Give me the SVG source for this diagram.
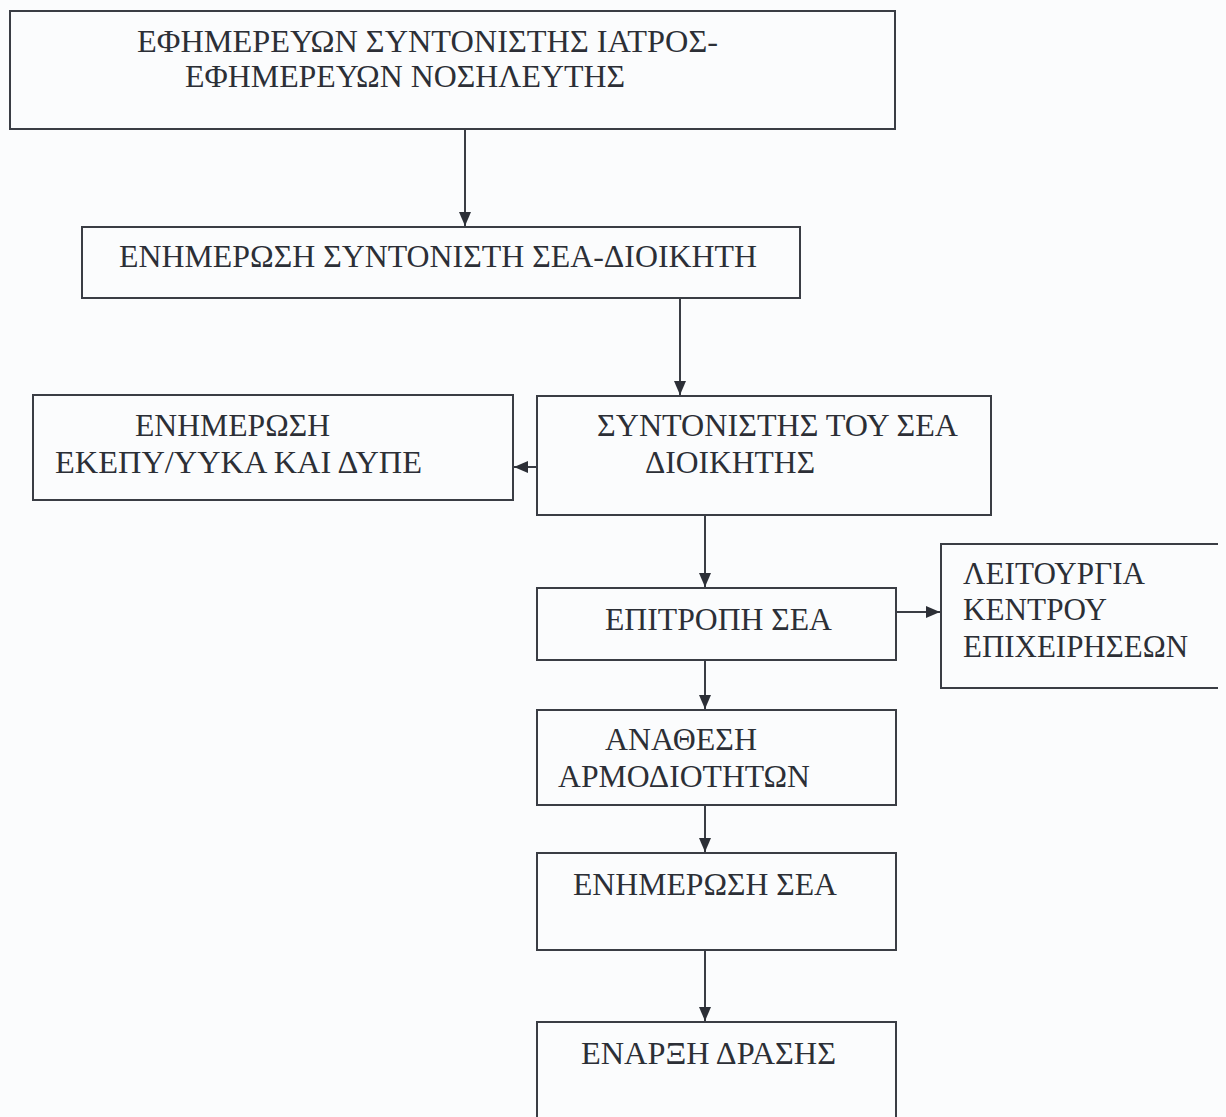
<svg xmlns="http://www.w3.org/2000/svg" width="1226" height="1117" viewBox="0 0 1226 1117">
<defs>
<style>
.box{fill:none;stroke:#3a3d44;stroke-width:2}
.t{font-family:"Liberation Serif","Times New Roman",serif;font-size:31px;fill:#2c2f36}
.c{fill:none;stroke:#3a3d44;stroke-width:2}
</style>
<marker id="ah" viewBox="0 0 14 12" refX="14" refY="6" markerWidth="14" markerHeight="12" markerUnits="userSpaceOnUse" orient="auto">
<path d="M0,0 L14,6 L0,12 z" fill="#2c2f36"/>
</marker>
</defs>
<rect width="1226" height="1117" fill="#fbfcfd"/>
<g id="connectors">
<line class="c" x1="465" y1="129" x2="465" y2="226" marker-end="url(#ah)"/>
<line class="c" x1="680" y1="298" x2="680" y2="395" marker-end="url(#ah)"/>
<line class="c" x1="537" y1="467" x2="514" y2="467" marker-end="url(#ah)"/>
<line class="c" x1="705" y1="515" x2="705" y2="587" marker-end="url(#ah)"/>
<line class="c" x1="896" y1="612" x2="940" y2="612" marker-end="url(#ah)"/>
<line class="c" x1="705" y1="660" x2="705" y2="709" marker-end="url(#ah)"/>
<line class="c" x1="705" y1="805" x2="705" y2="852" marker-end="url(#ah)"/>
<line class="c" x1="705" y1="950" x2="705" y2="1021" marker-end="url(#ah)"/>
</g>
<g id="n1">
<rect class="box" x="10" y="11" width="885" height="118"/>
<text class="t" x="137" y="52" textLength="581" lengthAdjust="spacingAndGlyphs">ΕΦΗΜΕΡΕΥΩΝ ΣΥΝΤΟΝΙΣΤΗΣ ΙΑΤΡΟΣ-</text>
<text class="t" x="185" y="87" textLength="440" lengthAdjust="spacingAndGlyphs">ΕΦΗΜΕΡΕΥΩΝ ΝΟΣΗΛΕΥΤΗΣ</text>
</g>
<g id="n2">
<rect class="box" x="82" y="227" width="718" height="71"/>
<text class="t" x="119" y="267" textLength="638" lengthAdjust="spacingAndGlyphs">ΕΝΗΜΕΡΩΣΗ ΣΥΝΤΟΝΙΣΤΗ ΣΕΑ-ΔΙΟΙΚΗΤΗ</text>
</g>
<g id="n3">
<rect class="box" x="33" y="395" width="480" height="105"/>
<text class="t" x="135" y="436" textLength="195" lengthAdjust="spacingAndGlyphs">ΕΝΗΜΕΡΩΣΗ</text>
<text class="t" x="55" y="473" textLength="367" lengthAdjust="spacingAndGlyphs">ΕΚΕΠΥ/ΥΥΚΑ ΚΑΙ ΔΥΠΕ</text>
</g>
<g id="n4">
<rect class="box" x="537" y="396" width="454" height="119"/>
<text class="t" x="597" y="436" textLength="361" lengthAdjust="spacingAndGlyphs">ΣΥΝΤΟΝΙΣΤΗΣ ΤΟΥ ΣΕΑ</text>
<text class="t" x="645" y="473" textLength="170" lengthAdjust="spacingAndGlyphs">ΔΙΟΙΚΗΤΗΣ</text>
</g>
<g id="n5">
<rect class="box" x="537" y="588" width="359" height="72"/>
<text class="t" x="605" y="630" textLength="227" lengthAdjust="spacingAndGlyphs">ΕΠΙΤΡΟΠΗ ΣΕΑ</text>
</g>
<g id="n6">
<path class="box" d="M1218,544 H941 V688 H1218"/>
<text class="t" x="963" y="584" textLength="182" lengthAdjust="spacingAndGlyphs">ΛΕΙΤΟΥΡΓΙΑ</text>
<text class="t" x="963" y="620" textLength="144" lengthAdjust="spacingAndGlyphs">ΚΕΝΤΡΟΥ</text>
<text class="t" x="963" y="657" textLength="225" lengthAdjust="spacingAndGlyphs">ΕΠΙΧΕΙΡΗΣΕΩΝ</text>
</g>
<g id="n7">
<rect class="box" x="537" y="710" width="359" height="95"/>
<text class="t" x="605" y="750" textLength="152" lengthAdjust="spacingAndGlyphs">ΑΝΑΘΕΣΗ</text>
<text class="t" x="558" y="787" textLength="252" lengthAdjust="spacingAndGlyphs">ΑΡΜΟΔΙΟΤΗΤΩΝ</text>
</g>
<g id="n8">
<rect class="box" x="537" y="853" width="359" height="97"/>
<text class="t" x="573" y="895" textLength="264" lengthAdjust="spacingAndGlyphs">ΕΝΗΜΕΡΩΣΗ ΣΕΑ</text>
</g>
<g id="n9">
<path class="box" d="M537,1130 V1022 H896 V1130"/>
<text class="t" x="581" y="1064" textLength="255" lengthAdjust="spacingAndGlyphs">ΕΝΑΡΞΗ ΔΡΑΣΗΣ</text>
</g>
</svg>
